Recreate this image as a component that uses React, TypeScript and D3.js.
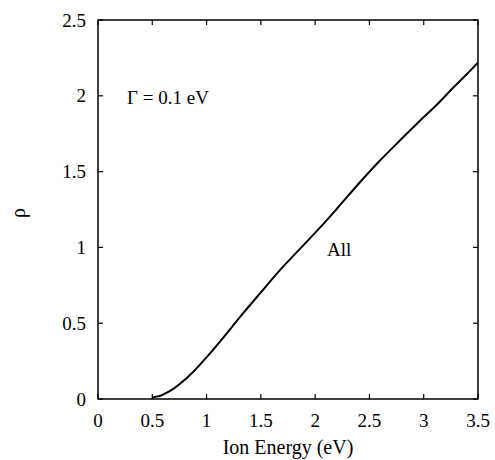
import React from "react";
import * as d3 from "d3";

const energy = [0.5, 0.51, 0.57, 0.63, 0.7, 0.755, 0.878, 1.0, 1.154, 1.307, 1.49, 1.676, 1.86, 2.044, 2.2, 2.413, 2.597, 2.78, 2.965, 3.13, 3.24, 3.4, 3.5];
const rho = [0.0, 0.01, 0.02, 0.04, 0.07, 0.1, 0.18, 0.275, 0.405, 0.54, 0.695, 0.85, 0.99, 1.13, 1.255, 1.43, 1.573, 1.705, 1.835, 1.948, 2.03, 2.145, 2.22];
const xTicks = [0, 0.5, 1, 1.5, 2, 2.5, 3, 3.5];
const yTicks = [0, 0.5, 1, 1.5, 2, 2.5];

const W = 495, H = 460;
const L = 98, R = 478, T = 20, B = 399;
const font = "'Liberation Serif', 'DejaVu Serif', serif";

export default function App() {
  const x = d3.scaleLinear().domain([0, 3.5]).range([L, R]);
  const y = d3.scaleLinear().domain([0, 2.5]).range([B, T]);
  const line = d3.line<number>().x((_, i) => x(energy[i])).y((d) => y(d)).curve(d3.curveMonotoneX);
  const tl = 5;
  return (
    <svg width={W} height={H} style={{ position: "absolute", left: 0, top: 0, background: "#fff" }}>
      <rect x={L} y={T} width={R - L} height={B - T} fill="none" stroke="#000" strokeWidth={1.5} />
      {xTicks.map((t) => (
        <g key={"x" + t}>
          <line x1={x(t)} x2={x(t)} y1={B} y2={B - tl} stroke="#000" strokeWidth={1.2} />
          <line x1={x(t)} x2={x(t)} y1={T} y2={T + tl} stroke="#000" strokeWidth={1.2} />
          <text x={x(t)} y={427} textAnchor="middle" fontFamily={font} fontSize={19}>{t}</text>
        </g>
      ))}
      {yTicks.map((t) => (
        <g key={"y" + t}>
          <line x1={L} x2={L + tl} y1={y(t)} y2={y(t)} stroke="#000" strokeWidth={1.2} />
          <line x1={R} x2={R - tl} y1={y(t)} y2={y(t)} stroke="#000" strokeWidth={1.2} />
          <text x={86} y={y(t)} dy="0.35em" textAnchor="end" fontFamily={font} fontSize={19}>{t}</text>
        </g>
      ))}
      <path d={line(rho) || ""} fill="none" stroke="#000" strokeWidth={2} />
      <text x={127} y={104} fontFamily={font} fontSize={19}>Γ = 0.1 eV</text>
      <text x={327} y={256} fontFamily={font} fontSize={19}>All</text>
      <text x={288} y={454} textAnchor="middle" fontFamily={font} fontSize={20}>Ion Energy (eV)</text>
      <text transform="translate(25,213) rotate(-90)" textAnchor="middle" fontFamily={font} fontSize={20}>ρ</text>
    </svg>
  );
}
